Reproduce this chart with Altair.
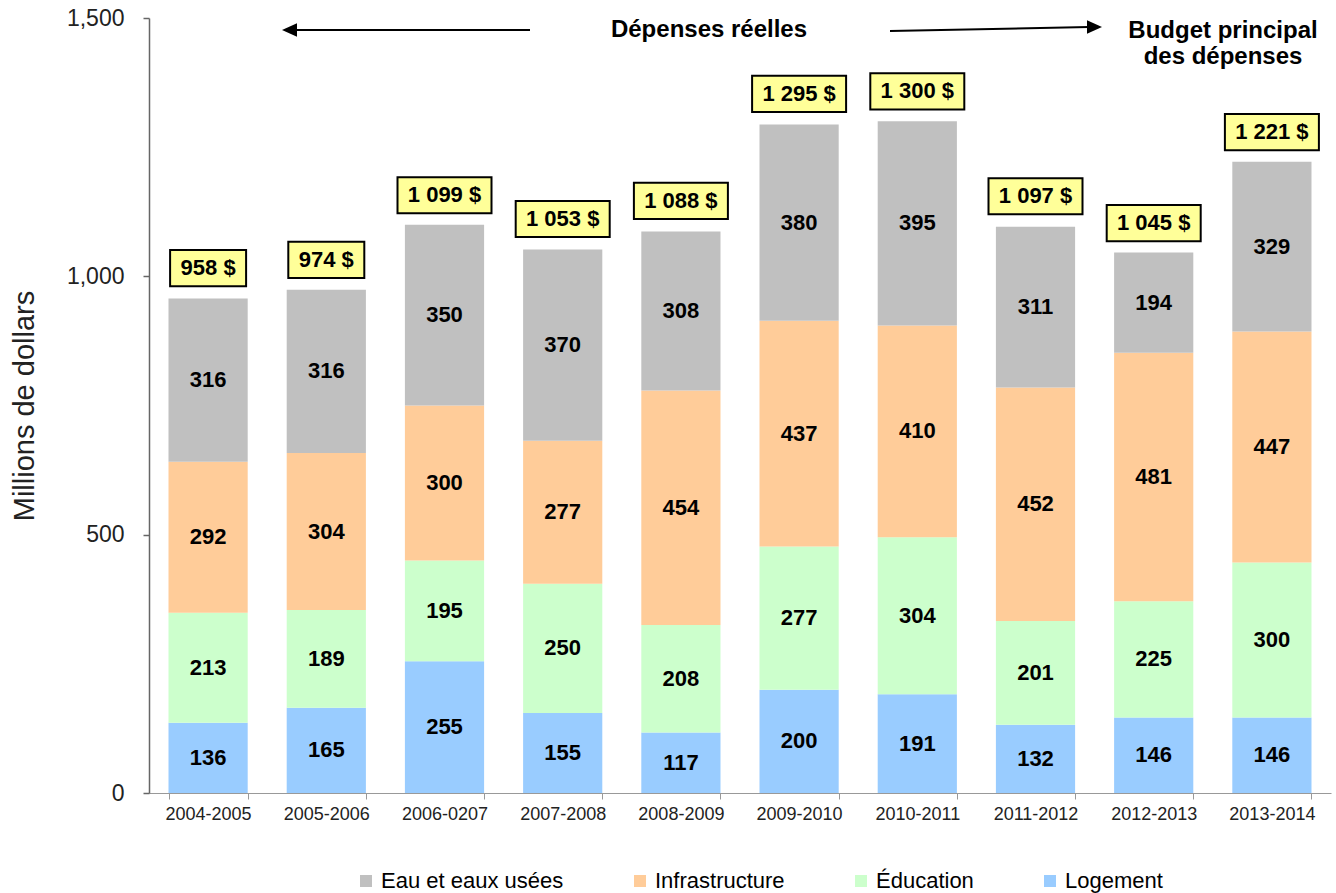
import altair as alt
import pandas as pd

# ---- data ----
years = ["2004-2005", "2005-2006", "2006-0207", "2007-2008", "2008-2009",
         "2009-2010", "2010-2011", "2011-2012", "2012-2013", "2013-2014"]
logement = [136, 165, 255, 155, 117, 200, 191, 132, 146, 146]
education = [213, 189, 195, 250, 208, 277, 304, 201, 225, 300]
infrastructure = [292, 304, 300, 277, 454, 437, 410, 452, 481, 447]
eau = [316, 316, 350, 370, 308, 380, 395, 311, 194, 329]
totals = [958, 974, 1099, 1053, 1088, 1295, 1300, 1097, 1045, 1221]

stack_order = ["Logement", "Éducation", "Infrastructure", "Eau et eaux usées"]  # bottom -> top
legend_order = ["Eau et eaux usées", "Infrastructure", "Éducation", "Logement"]
palette = ["#C0C0C0", "#FFCC99", "#CCFFCC", "#99CCFF"]

FONT = "Liberation Sans"

# ---- tables ----
series_vals = {"Logement": logement, "Éducation": education,
               "Infrastructure": infrastructure, "Eau et eaux usées": eau}
rows = []
for i, yr in enumerate(years):
    base = 0
    for s in stack_order:
        v = series_vals[s][i]
        rows.append({"year": yr, "series": s, "value": v,
                     "y0": base, "y1": base + v, "mid": base + v / 2})
        base += v
seg = pd.DataFrame(rows)

def fmt_total(t):
    return f"{t:,}".replace(",", " ") + " $"

def box_width(label):
    em = sum(0.278 if c == " " else 0.556 for c in label)
    return round(em * 22 + 21)

tot = pd.DataFrame({"year": years, "total": totals})
tot["label"] = tot["total"].apply(fmt_total)
tot["bottom"] = tot["total"] + 23
tot["top"] = tot["total"] + 93
tot["mid"] = tot["total"] + 58
tot["w"] = tot["label"].apply(box_width)

# ---- shared encodings ----
x_axis = alt.Axis(labelAngle=0, labelFontSize=18, labelFont=FONT, labelColor="#222",
                  tickBand="extent", tickSize=6, tickColor="#999", domainColor="#999",
                  labelPadding=6, title=None, grid=False)
x_enc = alt.X("year:N", sort=years, title=None,
              scale=alt.Scale(paddingInner=0.33, paddingOuter=0.165), axis=x_axis)
y_axis = alt.Axis(values=[0, 500, 1000, 1500], format=",.0f", labelFontSize=23, labelFont=FONT,
                  labelColor="#222", labelPadding=19, tickSize=6, tickColor="#666",
                  domainColor="#666", domainWidth=1.5, tickWidth=1.5,
                  title="Millions de dollars", titleFontSize=29, titleFontWeight="normal",
                  titleFont=FONT, titleColor="#222", titlePadding=27, grid=False)
y_scale = alt.Scale(domain=[0, 1500], nice=False)

def y_enc(field):
    return alt.Y(field, scale=y_scale, axis=y_axis, title="Millions de dollars")

bars = alt.Chart(seg).mark_bar().encode(
    x=x_enc,
    y=y_enc("y0:Q"),
    y2="y1:Q",
    color=alt.Color("series:N",
                    scale=alt.Scale(domain=legend_order, range=palette),
                    legend=alt.Legend(orient="none", legendX=206, legendY=852,
                                      direction="horizontal", columns=4, title=None,
                                      symbolType="square", symbolSize=144,
                                      symbolStrokeWidth=0, labelFont=FONT,
                                      labelFontSize=22, labelColor="black",
                                      labelOffset=4, columnPadding=65, padding=0,
                                      labelLimit=0)),
)

seg_labels = alt.Chart(seg).mark_text(font=FONT, fontSize=22, fontWeight="bold",
                                      color="black", baseline="middle").encode(
    x=x_enc, y=y_enc("mid:Q"), text="value:Q")

boxes = alt.Chart(tot).mark_bar(fill="#FFFF99", stroke="black", strokeWidth=2).encode(
    x=x_enc, y=y_enc("bottom:Q"), y2="top:Q",
    size=alt.Size("w:Q", scale=None, legend=None))

box_labels = alt.Chart(tot).mark_text(font=FONT, fontSize=22, fontWeight="bold",
                                      color="black", baseline="middle").encode(
    x=x_enc, y=y_enc("mid:Q"), text="label:N")

# ---- annotations (pixel positions within plot area) ----
one = pd.DataFrame({"k": [0]})

def note(s, x, y):
    return alt.Chart(one).mark_text(text=s, font=FONT, fontSize=24, fontWeight="bold",
                                    color="black", align="center",
                                    baseline="alphabetic").encode(
        x=alt.value(x), y=alt.value(y))

def rule(x1, y1, x2, y2):
    return alt.Chart(one).mark_rule(color="black", strokeWidth=2).encode(
        x=alt.value(x1), x2=alt.value(x2), y=alt.value(y1), y2=alt.value(y2))

def head(shape, x, y):
    return alt.Chart(one).mark_point(shape=shape, filled=True, size=225, color="black",
                                     opacity=1, strokeWidth=0).encode(
        x=alt.value(x), y=alt.value(y))

annotations = [
    note("Dépenses réelles", 560, 19),
    note("Budget principal", 1074, 20),
    note("des dépenses", 1074, 46),
    rule(141, 12, 381, 12),
    head("M-1,0L1,-0.9L1,0.9Z", 140.5, 12),
    rule(741, 13, 940, 9),
    head("M1,0L-1,-0.9L-1,0.9Z", 945.5, 9),
]

chart = alt.layer(bars, seg_labels, boxes, box_labels, *annotations).properties(
    width=1182, height=775,
    padding={"left": 149, "top": 18, "right": 5, "bottom": 100},
    autosize=alt.AutoSizeParams(type="none"),
).configure_view(strokeWidth=0).configure_axis(grid=False)

chart.save("out.html", embed_options={"renderer": "svg", "actions": False})
